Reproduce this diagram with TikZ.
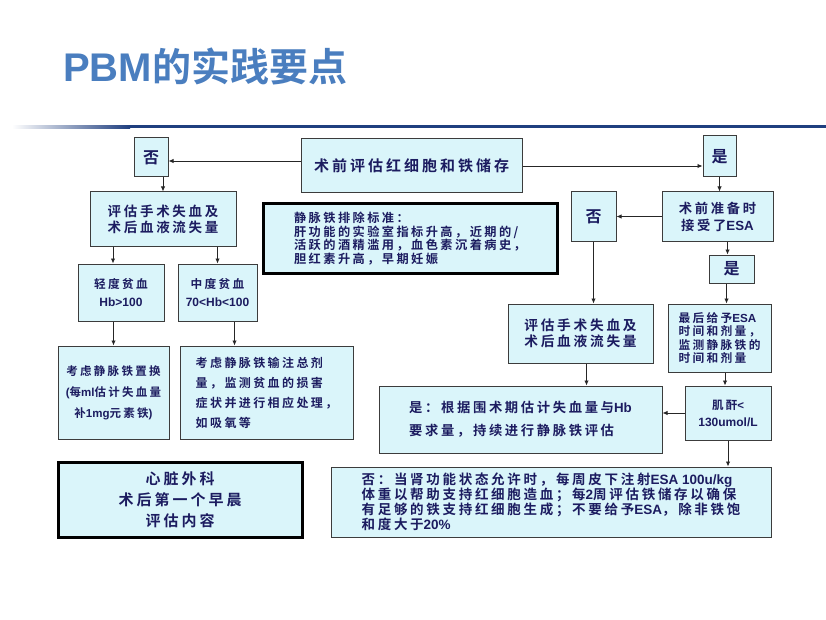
\documentclass[tikz,border=0pt]{standalone}
\usepackage{fontspec}
\usetikzlibrary{arrows.meta}
\newfontfamily\cjk[LetterSpace=20]{Noto Sans CJK SC Bold}
\newfontfamily\cjktitle{Noto Sans CJK SC Bold}
\newfontfamily\latf{Liberation Sans Bold}
\newcommand\LT[1]{{\latf #1}}
\definecolor{boxc}{RGB}{218,245,250}
\definecolor{bordc}{RGB}{60,60,60}
\definecolor{txtc}{RGB}{28,28,96}
\definecolor{titlec}{RGB}{74,126,191}
\definecolor{linec}{RGB}{31,63,127}
\tikzset{
  box/.style={draw=bordc, fill=boxc, line width=1pt, inner sep=0pt, text=txtc, align=center},
  thickbox/.style={box, draw=black, line width=3pt},
  fs/.style 2 args={font=\cjk\fontsize{#1}{#2}\selectfont},
  wh/.style 2 args={minimum width=#1, minimum height=#2},
  arr/.style={draw=black!85, line width=0.9pt, -{Latex[length=5pt,width=4.5pt]}}
}
\begin{document}
\begin{tikzpicture}[x=1pt,y=-1pt]
\fill[white] (0,0) rectangle (826,620);
\useasboundingbox (0,0) rectangle (826,620);
% title
\node[anchor=base west, inner sep=0pt, text=titlec] (title) at (63,82)
  {\latf\fontsize{40}{40}\selectfont PBM\cjktitle\fontsize{39}{39}\selectfont 的实践要点};
\shade[left color=white, right color=linec] (12,125.5) rectangle (130,128.5);
\fill[linec] (129.5,125.5) rectangle (826,128.5);
% nodes
\node[box, fs={16}{18}, wh={34}{39}] (no1) at (151,157.5) {否};
\node[box, fs={15}{17}, wh={221}{54}] (main) at (411.5,166) {术前评估红细胞和铁储存};
\node[box, fs={16}{18}, wh={33}{41}] (yes1) at (719.5,156.5) {是};
\node[box, fs={13.5}{16}, wh={146}{54}] (eval1) at (163,219) {评估手术失血及\\术后血液流失量};
\node[thickbox, fs={12.2}{13.5}, wh={294}{69}, align=left] (crit) at (410,238.5)
  {静脉铁排除标准：\\肝功能的实验室指标升高，近期的/\\活跃的酒精滥用，血色素沉着病史，\\胆红素升高，早期妊娠};
\node[box, fs={16}{18}, wh={45}{49}] (no2) at (593.5,216.5) {否};
\node[box, fs={13.3}{17}, wh={111}{49}] (esa) at (717.5,216.5) {术前准备时\\接受了\LT{ESA}};
\node[box, fs={16}{18}, wh={45}{28}] (yes2) at (731.5,269) {是};
\node[box, fs={11.7}{18}, wh={86}{57}] (mild) at (121,292.5) {轻度贫血\\\LT{\fontsize{12}{18}\selectfont Hb>100}};
\node[box, fs={11.7}{18}, wh={79}{57}] (moderate) at (217.5,292.5) {中度贫血\\\LT{\fontsize{12}{18}\selectfont 70<Hb<100}};
\node[box, fs={13.7}{15.5}, wh={145}{59}] (eval2) at (580.5,333.5) {评估手术失血及\\术后血液流失量};
\node[box, fs={11.7}{13.5}, wh={103}{68}, align=left] (last) at (719.5,338)
  {最后给予\LT{ESA}\\时间和剂量，\\监测静脉铁的\\时间和剂量};
\node[box, fs={11.5}{21}, wh={111}{93}] (iv1) at (113.5,392.5)
  {考虑静脉铁置换\\\LT{(}每\LT{ml}估计失血量\\补\LT{1mg}元素铁\LT{)}};
\node[box, fs={12}{20}, wh={173}{93}, align=left] (iv2) at (266.5,392.5)
  {考虑静脉铁输注总剂\\量，监测贫血的损害\\症状并进行相应处理，\\如吸氧等};
\node[box, fs={13.3}{23}, wh={283}{67}, align=left] (yesbox) at (520.5,419.5)
  {是：根据围术期估计失血量与\LT{Hb}\\要求量，持续进行静脉铁评估};
\node[box, fs={11.5}{17}, wh={86}{54}] (creat) at (728,413)
  {肌酐\LT{<}\\\LT{\fontsize{12}{17}\selectfont 130umol/L}};
\node[box, fs={13.5}{15}, wh={440}{70}, align=left] (nobox) at (551,502)
  {否：当肾功能状态允许时，每周皮下注射\LT{ESA 100u/kg}\\体重以帮助支持红细胞造血；每\LT{2}周评估铁储存以确保\\有足够的铁支持红细胞生成；不要给予\LT{ESA}，除非铁饱\\和度大于\LT{20\%}};
\node[thickbox, fs={15}{21}, wh={244}{75}] (heart) at (180,499.5)
  {心脏外科\\术后第一个早晨\\评估内容};
% connectors
\draw[arr] ([yshift=5pt]main.west) coordinate (t1) -- (t1 -| no1.east);
\draw[arr] (main.east) -- (main.east -| yes1.west);
\draw[arr] (eval1.north |- no1.south) -- (eval1.north);
\draw[arr] ([xshift=-8pt]mild.north |- eval1.south) -- ([xshift=-8pt]mild.north);
\draw[arr] (moderate.north |- eval1.south) -- (moderate.north);
\draw[arr] (iv1.north |- mild.south) -- (iv1.north);
\draw[arr] ([xshift=17pt]moderate.south) coordinate (t2) -- (t2 |- iv2.north);
\draw[arr] (yes1.south) -- (yes1.south |- esa.north);
\draw[arr] (esa.west) -- (esa.west -| no2.east);
\draw[arr] (no2.south) -- (no2.south |- eval2.north);
\draw[arr] ([xshift=-4pt]yes2.north |- esa.south) -- ([xshift=-4pt]yes2.north);
\draw[arr] ([xshift=-5pt]yes2.south) coordinate (t3) -- (t3 |- last.north);
\draw[arr] ([xshift=-3pt]creat.north |- last.south) -- ([xshift=-3pt]creat.north);
\draw[arr] (creat.west) -- (creat.west -| yesbox.east);
\draw[arr] ([xshift=6pt]eval2.south) coordinate (t4) -- (t4 |- yesbox.north);
\draw[arr] (creat.south) -- (creat.south |- nobox.north);
\end{tikzpicture}
\end{document}
